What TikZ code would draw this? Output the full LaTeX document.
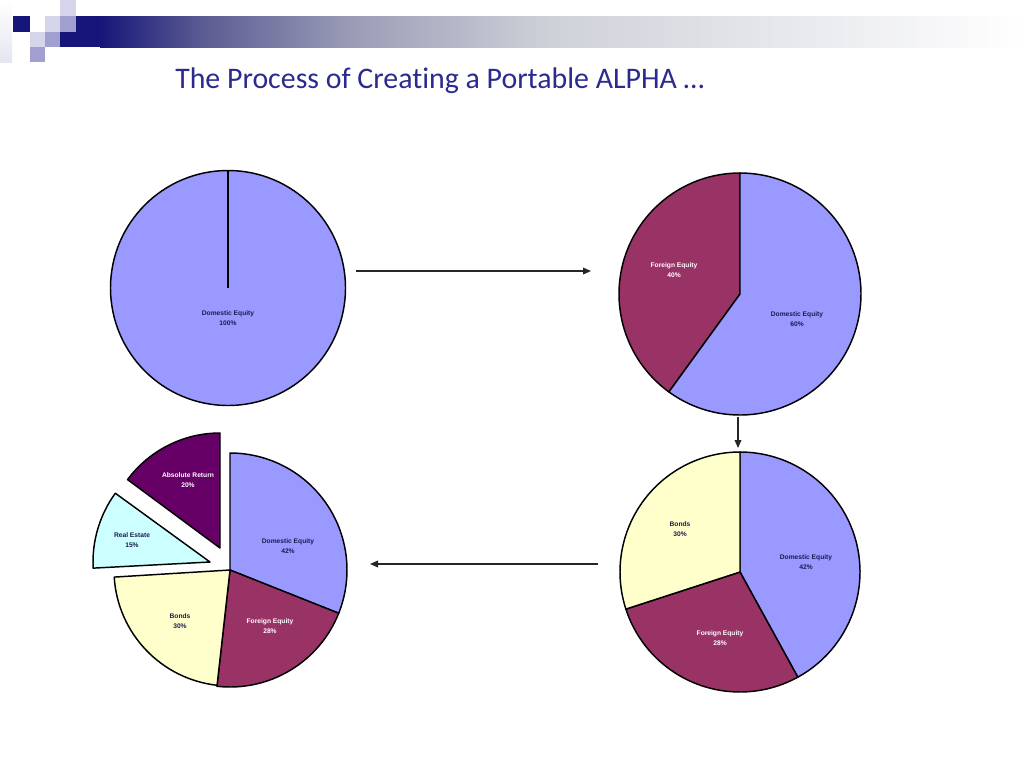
\documentclass[tikz,border=0pt]{standalone}
\usepackage{fontspec}
\setmainfont{Liberation Sans}
\newfontfamily\titlefont[Ligatures=NoCommon]{Carlito}
\usetikzlibrary{arrows.meta}
\definecolor{navy}{HTML}{16167A}
\definecolor{titleblue}{HTML}{2B2B8F}
\definecolor{domc}{HTML}{9999FF}
\definecolor{forc}{HTML}{993366}
\definecolor{bondc}{HTML}{FFFFCC}
\definecolor{realc}{HTML}{CCFFFF}
\definecolor{absc}{HTML}{660066}
\definecolor{labdark}{HTML}{1A1A50}
\definecolor{sqlight}{HTML}{D4D4EA}
\definecolor{sqmed}{HTML}{A0A0D0}
\definecolor{g1}{HTML}{5A5A92}
\definecolor{g2}{HTML}{9A9CB6}
\definecolor{g3}{HTML}{CFD1D9}
\tikzset{
  wedge/.style={draw=black, line width=1.1pt, line join=round},
  lab/.style={align=center, font=\bfseries\fontsize{5}{7.8}\selectfont, text=labdark, inner sep=0pt},
  labw/.style={lab, text=white},
  flow/.style={draw=black!85, line width=1pt, -{Triangle[length=6pt,width=5pt]}},
  pienode/.style={circle, inner sep=0pt, draw=none}
}
\begin{document}
\begin{tikzpicture}[x=0.75pt,y=0.75pt]
\useasboundingbox (0,0) rectangle (1024,-768);
\fill[white] (0,0) rectangle (1024,-768);
% header decoration
\shade[top color=white, bottom color=sqlight!60] (0,0) rectangle (12,-62);
\fill[navy] (60,-16) rectangle (100,-47);
\shade[left color=navy, right color=g1] (100,-16) rectangle (200,-47);
\shade[left color=g1, right color=g2] (199.5,-16) rectangle (350,-47);
\shade[left color=g2, right color=g3] (349.5,-16) rectangle (550,-47);
\shade[left color=g3, right color=white] (549.5,-16) rectangle (1024,-47);
\fill[navy] (13,-16) rectangle (30,-32);
\fill[sqlight] (45,-16) rectangle (60,-32);
\fill[sqlight] (60,0) rectangle (76,-16);
\fill[sqmed] (60,-16) rectangle (76,-32);
\fill[sqlight] (30,-32) rectangle (45,-47);
\fill[sqmed] (45,-32) rectangle (60,-47);
\fill[sqmed] (30,-47) rectangle (45,-62);
% title
\node[anchor=base west, inner sep=0pt, text=titleblue, font=\titlefont\fontsize{22.4}{26}\selectfont] (title) at (175,-88) {The Process of Creating a Portable ALPHA …};

% pie 1
\node[pienode, minimum size=176pt] (p1) at (228,-288) {};
\filldraw[wedge, fill=domc] (p1.center) circle (117.5);
\draw[wedge] (p1.center) -- (p1.north);
\node[lab] (l1) at (228,-318) {Domestic Equity\\100\%};

% pie 2
\node[pienode, minimum size=181.5pt] (p2) at (740,-294) {};
\filldraw[wedge, fill=forc] (p2.center) -- ++(90:121) arc[start angle=90, end angle=234, radius=121] -- cycle;
\filldraw[wedge, fill=domc] (p2.center) -- ++(234:121) arc[start angle=234, end angle=450, radius=121] -- cycle;
\node[labw] (l2a) at (674,-270) {Foreign Equity\\40\%};
\node[lab] (l2b) at (797,-319) {Domestic Equity\\60\%};

% pie 3
\node[pienode, minimum size=180pt] (p3) at (740,-572) {};
\filldraw[wedge, fill=domc] (p3.center) -- ++(-61.2:120) arc[start angle=-61.2, end angle=90, radius=120] -- cycle;
\filldraw[wedge, fill=forc] (p3.center) -- ++(-162:120) arc[start angle=-162, end angle=-61.2, radius=120] -- cycle;
\filldraw[wedge, fill=bondc] (p3.center) -- ++(90:120) arc[start angle=90, end angle=198, radius=120] -- cycle;
\node[lab] (l3a) at (680,-529) {Bonds\\30\%};
\node[lab] (l3b) at (806,-562) {Domestic Equity\\42\%};
\node[labw] (l3c) at (720,-638) {Foreign Equity\\28\%};

% pie 4
\node[pienode, minimum size=175.5pt] (p4) at (230,-570) {};
\filldraw[wedge, fill=domc] (p4.center) -- ++(-21.7:117) arc[start angle=-21.7, end angle=90, radius=117] -- cycle;
\filldraw[wedge, fill=forc] (p4.center) -- ++(-96.4:117) arc[start angle=-96.4, end angle=-21.7, radius=117] -- cycle;
\filldraw[wedge, fill=bondc] (p4.center) -- ++(183.5:116) arc[start angle=183.5, end angle=263.6, radius=116] -- cycle;
\coordinate (re) at (210,-562);
\filldraw[wedge, fill=realc] (re) -- ++(144:117) arc[start angle=144, end angle=183, radius=117] -- cycle;
\coordinate (ar) at (220,-548);
\filldraw[wedge, fill=absc] (ar) -- ++(90:115) arc[start angle=90, end angle=143.5, radius=115] -- cycle;
\node[labw] (l4a) at (188,-480) {Absolute Return\\20\%};
\node[lab] (l4b) at (132,-540) {Real Estate\\15\%};
\node[lab] (l4c) at (288,-546) {Domestic Equity\\42\%};
\node[lab] (l4d) at (180,-621) {Bonds\\30\%};
\node[labw] (l4e) at (270,-626) {Foreign Equity\\28\%};

% connectors
\coordinate (a1s) at (356,-271);
\coordinate (a1e) at (591,-271);
\coordinate (a2s) at (738,-417);
\coordinate (a2e) at (738,-448);
\coordinate (a3s) at (598,-564);
\coordinate (a3e) at (370,-564);
\draw[flow] (a1s) -- (a1e);
\draw[flow] (a2s) -- (a2e);
\draw[flow] (a3s) -- (a3e);
\end{tikzpicture}
\end{document}
